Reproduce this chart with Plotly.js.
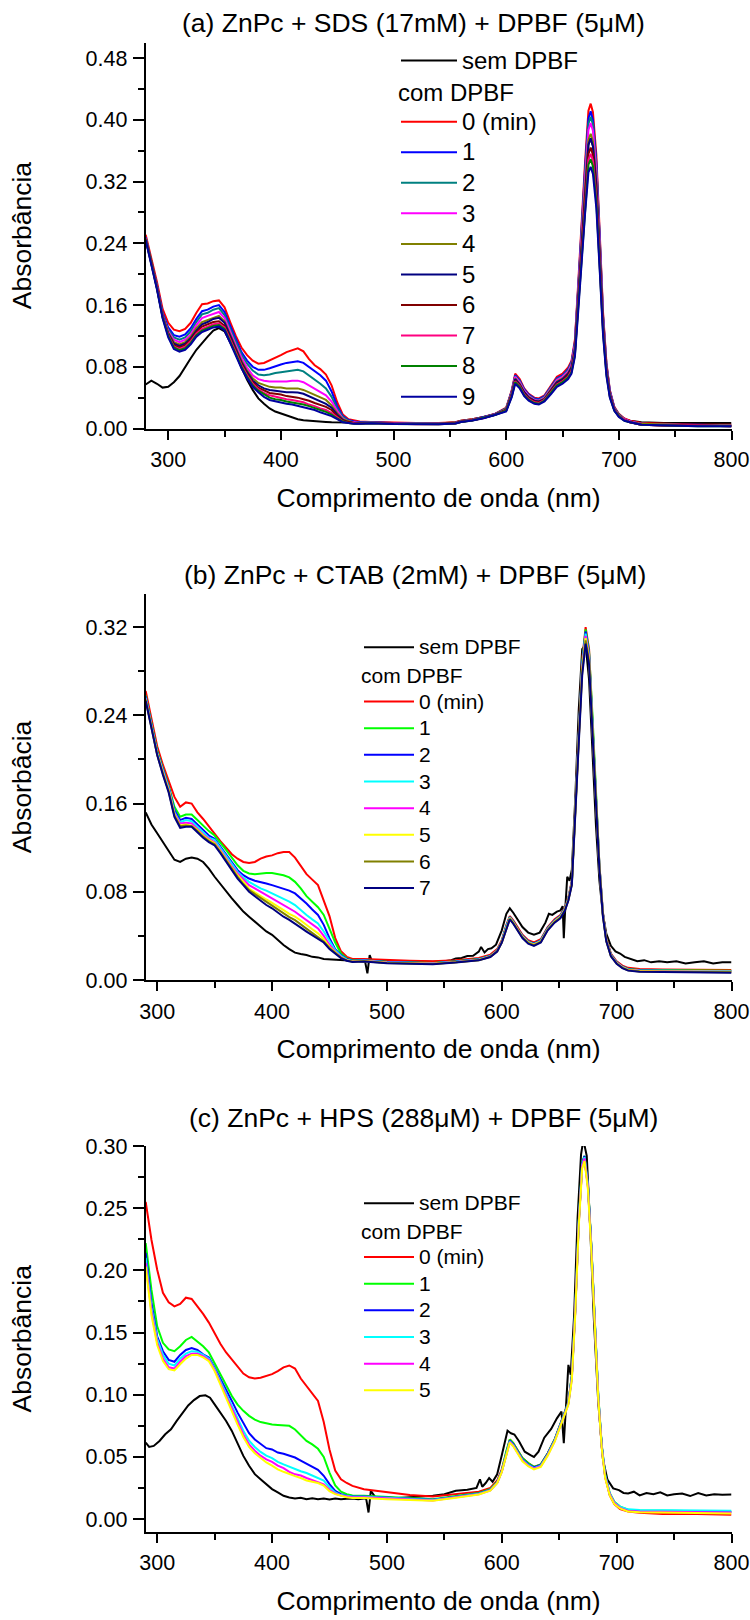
<!DOCTYPE html>
<html>
<head>
<meta charset="utf-8">
<script src="https://cdn.plot.ly/plotly-3.0.1.min.js"></script>
<style>html,body{margin:0;padding:0;background:#fff;}#chart{width:750px;height:1620px;}</style>
</head>
<body>
<div id="chart"></div>
<script>
// ---------- Panel (a): ZnPc + SDS ----------
const wlA = [280,285,290,295,300,305,310,315,320,325,330,335,340,345,350,355,360,365,370,375,380,385,390,395,400,405,410,415,420,425,430,435,440,445,450,455,460,465,470,
480,500,520,540,555,560,570,580,590,
600,605,608,612,616,620,625,629,634,640,645,650,655,658,661,664,667,670,673,675,677,680,683,686,689,692,696,700,705,710,720,740,770,800];
const aSem = [.057,.062,.058,.053,.054,.060,.068,.080,.091,.102,.111,.119,.127,.130,.126,.112,.097,.079,.063,.050,.039,.032,.026,.022,.0195,.016,.0138,.012,.0108,.010,.0095,.009,.0085,.008,.0078,.0076,.0075,.0075,.0075,
.0075,.007,.0065,.0065,.008,.010,.012,.015,.019,
.024,.045,.064,.057,.047,.040,.036,.035,.038,.050,.060,.064,.071,.079,.103,.170,.241,.308,.368,.376,.366,.317,.228,.134,.077,.046,.026,.018,.012,.010,.008,.007,.007,.007];
const aT0 = [.251,.222,.190,.155,.137,.128,.126,.129,.137,.150,.161,.162,.165,.166,.157,.138,.120,.105,.095,.088,.084,.085,.088,.092,.095,.099,.102,.104,.100,.090,.082,.077,.070,.056,.034,.018,.012,.010,.009,
.0085,.0075,.007,.007,.008,.010,.012,.015,.019,
.027,.050,.071,.064,.052,.045,.040,.039,.043,.056,.067,.071,.079,.088,.115,.190,.270,.345,.412,.421,.410,.355,.255,.150,.085,.050,.028,.019,.013,.010,.007,.006,.005,.005];
const aT1 = [.248,.219,.186,.150,.131,.121,.119,.122,.130,.142,.152,.154,.158,.160,.151,.133,.115,.099,.088,.080,.076,.076,.078,.081,.083,.085,.086,.087,.085,.080,.074,.069,.062,.048,.029,.016,.011,.009,.008,
.008,.007,.0065,.0065,.0075,.0095,.0115,.0145,.0185,
.026,.049,.069,.062,.051,.044,.039,.038,.042,.055,.065,.069,.077,.086,.112,.185,.264,.337,.402,.411,.400,.346,.249,.146,.083,.049,.027,.018,.012,.009,.006,.005,.005,.004];
const aT2 = [.247,.218,.185,.148,.128,.118,.115,.118,.126,.138,.148,.150,.154,.156,.147,.129,.112,.096,.084,.075,.070,.069,.070,.072,.073,.074,.075,.076,.074,.069,.064,.058,.052,.041,.026,.015,.010,.008,.0075,
.0078,.0068,.0063,.0063,.0073,.0093,.0113,.0143,.0183,
.026,.048,.068,.061,.050,.043,.038,.037,.041,.054,.064,.068,.076,.085,.110,.182,.259,.331,.395,.404,.394,.341,.245,.144,.082,.048,.027,.018,.012,.009,.006,.005,.004,.004];
const aT3 = [.247,.217,.184,.147,.126,.115,.112,.115,.122,.134,.143,.146,.149,.151,.143,.125,.108,.092,.079,.069,.064,.062,.061,.061,.061,.061,.062,.062,.060,.056,.052,.047,.043,.035,.023,.013,.009,.008,.007,
.0076,.0066,.0061,.0061,.0071,.0091,.0111,.0141,.0181,
.025,.047,.067,.060,.049,.042,.037,.036,.040,.053,.063,.067,.074,.083,.108,.179,.254,.324,.387,.396,.386,.334,.240,.141,.080,.047,.026,.017,.012,.009,.006,.005,.004,.004];
const aT4 = [.246,.217,.183,.146,.124,.112,.109,.112,.119,.130,.138,.141,.144,.146,.139,.122,.105,.088,.075,.065,.059,.056,.054,.053,.053,.052,.052,.052,.050,.047,.043,.040,.037,.030,.020,.012,.009,.007,.007,
.0074,.0064,.006,.006,.007,.009,.011,.014,.018,
.025,.046,.065,.058,.047,.041,.036,.035,.039,.051,.061,.065,.072,.080,.104,.172,.245,.313,.374,.382,.372,.322,.231,.136,.077,.045,.025,.017,.011,.008,.006,.005,.004,.004];
const aT5 = [.246,.216,.183,.146,.123,.110,.107,.110,.117,.127,.135,.138,.142,.1435,.137,.120,.103,.086,.073,.062,.056,.052,.050,.049,.048,.047,.047,.0467,.045,.042,.039,.036,.032,.027,.018,.011,.008,.007,.0065,
.0072,.0062,.0058,.0058,.0068,.0088,.0108,.0138,.0178,
.024,.045,.064,.057,.047,.040,.036,.035,.038,.050,.060,.064,.071,.079,.103,.170,.241,.308,.368,.376,.366,.317,.228,.134,.076,.045,.025,.016,.011,.008,.005,.004,.004,.003];
const aT6 = [.245,.216,.182,.145,.122,.108,.105,.108,.115,.125,.132,.135,.138,.139,.133,.117,.100,.084,.071,.060,.053,.049,.046,.045,.044,.042,.041,.040,.038,.036,.033,.031,.028,.024,.016,.010,.008,.007,.0065,
.0071,.0061,.0057,.0057,.0067,.0087,.0107,.0137,.0177,
.024,.044,.062,.056,.045,.039,.035,.034,.037,.049,.058,.062,.069,.076,.099,.164,.234,.298,.356,.364,.355,.307,.221,.130,.074,.043,.024,.016,.011,.008,.005,.004,.004,.003];
const aT7 = [.245,.215,.182,.145,.121,.106,.103,.106,.113,.123,.129,.132,.135,.136,.131,.115,.098,.082,.069,.058,.051,.046,.043,.041,.040,.038,.037,.0355,.034,.031,.029,.026,.024,.020,.014,.009,.007,.0065,.006,
.007,.006,.0056,.0056,.0066,.0086,.0106,.0136,.0176,
.023,.043,.061,.055,.044,.038,.034,.033,.037,.048,.057,.061,.067,.075,.097,.161,.228,.292,.348,.356,.347,.300,.216,.127,.072,.042,.024,.016,.011,.008,.005,.004,.004,.003];
const aT8 = [.245,.215,.181,.144,.120,.105,.1016,.104,.111,.121,.127,.130,.133,.134,.129,.113,.096,.080,.067,.056,.049,.044,.040,.038,.037,.035,.034,.0324,.031,.029,.027,.024,.0216,.018,.013,.009,.007,.006,.006,
.0069,.0059,.0055,.0055,.0065,.0085,.0105,.0135,.0175,
.023,.042,.060,.054,.043,.037,.033,.032,.036,.047,.056,.060,.066,.073,.095,.158,.224,.286,.342,.349,.340,.294,.211,.124,.070,.041,.023,.016,.010,.008,.005,.004,.003,.003];
const aT9 = [.244,.214,.180,.143,.118,.103,.0995,.102,.109,.119,.125,.128,.131,.132,.127,.111,.094,.078,.065,.054,.047,.041,.037,.035,.034,.032,.031,.0294,.028,.026,.024,.021,.0186,.016,.012,.008,.007,.006,.006,
.0068,.0058,.0054,.0054,.0064,.0084,.0104,.0134,.0174,
.022,.041,.058,.052,.042,.036,.032,.031,.035,.045,.054,.058,.064,.071,.093,.153,.218,.278,.332,.339,.330,.286,.205,.121,.068,.040,.023,.015,.010,.008,.005,.004,.003,.003];
const namesA = ['0 (min)','1','2','3','4','5','6','7','8','9'];
const colorsA = ['#ff0000','#0000ff','#008080','#ff00ff','#808000','#000080','#800000','#ff0080','#008000','#0000a0'];

// ---------- Panel (b): ZnPc + CTAB ----------
const wlB = [290,295,300,305,310,315,320,325,330,335,340,345,350,355,360,365,370,375,380,385,390,395,400,405,410,415,420,425,430,435,440,445,450,455,460,465,470,
480,500,520,540,560,580,590,596,600,604,607,610,614,618,623,628,634,640,646,651,655,658,661,664,667,670,673,676,679,682,685,688,691,695,700,705,710,720,740,770,800];
const wlBsem = [290,295,300,305,310,315,320,325,330,335,340,345,350,355,360,365,370,375,380,385,390,395,400,405,410,415,420,425,430,435,440,445,450,460,470,478,481,483,485,487,490,500,510,520,530,540,550,556,560,565,570,575,580,582,585,588,591,595,600,604,607,610,614,618,623,628,633,638,641,644,648,651,653,654,655,657,659,661,664,667,670,673,676,679,682,685,688,691,695,699,703,707,712,718,724,730,737,744,752,760,768,776,784,792,800];
const bSem = [.152,.141,.133,.125,.116,.109,.107,.110,.111,.110,.107,.101,.0936,.087,.080,.074,.068,.062,.0574,.053,.048,.044,.041,.036,.0317,.028,.0248,.0235,.0226,.021,.0205,.019,.0187,.0175,.017,.017,.0168,.006,.0226,.017,.0172,.0172,.017,.0166,.0168,.0166,.017,.018,.0196,.020,.0217,.022,.0257,.030,.025,.028,.0287,.032,.045,.060,.065,.061,.054,.048,.043,.041,.043,.052,.060,.059,.062,.063,.067,.038,.060,.0936,.090,.100,.165,.245,.300,.304,.272,.205,.140,.090,.060,.042,.031,.026,.024,.021,.019,.017,.018,.016,.017,.016,.017,.015,.016,.017,.015,.016,.016];
const bT0 = [.262,.236,.212,.195,.181,.166,.157,.161,.160,.152,.146,.139,.133,.126,.120,.114,.110,.107,.106,.107,.110,.112,.113,.115,.116,.116,.111,.103,.096,.091,.086,.072,.058,.038,.026,.021,.019,
.019,.018,.0175,.017,.018,.020,.023,.028,.036,.050,.058,.054,.047,.041,.036,.034,.037,.048,.055,.059,.066,.075,.090,.152,.225,.290,.320,.300,.240,.168,.105,.062,.038,.024,.017,.013,.011,.010,.0095,.009,.009];
const bT1 = [.258,.233,.208,.192,.176,.157,.148,.150,.150,.145,.140,.135,.131,.125,.118,.111,.104,.099,.0966,.096,.0966,.097,.097,.096,.095,.093,.089,.083,.076,.071,.066,.059,.047,.034,.024,.0196,.018,
.018,.0165,.016,.0155,.017,.019,.022,.027,.035,.049,.057,.053,.046,.040,.035,.033,.036,.047,.054,.058,.065,.074,.089,.151,.224,.288,.318,.298,.239,.167,.104,.061,.037,.023,.016,.012,.010,.009,.0088,.0085,.0085];
const bT2 = [.257,.232,.207,.191,.175,.154,.145,.147,.146,.141,.136,.131,.128,.121,.113,.106,.0996,.095,.092,.090,.089,.0875,.086,.0845,.083,.081,.0785,.074,.0694,.064,.059,.050,.038,.028,.0226,.019,.0175,
.0178,.0163,.0158,.0153,.0168,.0188,.0218,.0268,.0348,.049,.057,.053,.046,.040,.035,.033,.036,.047,.054,.058,.065,.074,.089,.150,.222,.286,.316,.296,.237,.166,.104,.061,.037,.023,.016,.012,.0098,.0088,.0085,.0082,.008];
const bT3 = [.256,.231,.206,.190,.174,.152,.143,.145,.144,.139,.134,.129,.127,.120,.112,.105,.098,.093,.089,.086,.083,.081,.0785,.076,.074,.071,.068,.063,.0589,.055,.0513,.044,.035,.027,.022,.0185,.0172,
.0176,.0161,.0156,.0151,.0166,.0186,.0216,.0266,.0346,.0485,.0565,.0525,.0455,.0395,.0345,.0325,.0355,.0465,.0535,.0575,.0645,.0735,.088,.149,.221,.285,.314,.294,.235,.165,.103,.060,.036,.0225,.0158,.0118,.0096,.0086,.0083,.008,.008];
const bT4 = [.255,.230,.205,.189,.173,.151,.142,.1425,.142,.137,.132,.128,.125,.118,.110,.103,.0966,.091,.086,.083,.080,.077,.074,.071,.068,.065,.0619,.058,.0543,.050,.0468,.040,.032,.0257,.021,.018,.017,
.0174,.0159,.0154,.0149,.0164,.0184,.0214,.0264,.0344,.048,.056,.052,.045,.039,.034,.032,.035,.046,.053,.057,.064,.073,.088,.148,.219,.283,.312,.293,.234,.164,.102,.060,.036,.0222,.0155,.0115,.0093,.0083,.008,.0077,.0075];
const bT5 = [.254,.229,.205,.188,.172,.150,.140,.141,.140,.136,.131,.127,.124,.117,.109,.102,.095,.089,.083,.0795,.076,.073,.070,.067,.0634,.060,.0574,.054,.0498,.046,.0423,.037,.030,.0248,.0205,.018,.0168,
.0172,.0157,.0152,.0147,.0162,.0182,.0212,.0262,.0342,.048,.056,.052,.045,.039,.034,.032,.035,.046,.053,.057,.064,.073,.087,.147,.218,.281,.310,.291,.233,.163,.102,.059,.036,.022,.0153,.0113,.0091,.0081,.0078,.0075,.0075];
const bT6 = [.254,.228,.204,.187,.171,.149,.1395,.140,.1395,.135,.130,.126,.123,.116,.108,.101,.0936,.087,.0815,.078,.074,.0705,.067,.0635,.0604,.057,.0543,.0505,.0468,.043,.0392,.035,.029,.0242,.0202,.0178,.0166,
.017,.0155,.015,.0145,.016,.018,.021,.026,.034,.0475,.0555,.0515,.0445,.0385,.0335,.0315,.0345,.0455,.0525,.0565,.0635,.0725,.087,.146,.217,.279,.308,.289,.231,.162,.101,.059,.035,.0218,.015,.011,.0088,.0078,.0075,.0072,.007];
const bT7 = [.253,.227,.204,.186,.170,.148,.138,.139,.139,.134,.129,.125,.122,.115,.107,.0995,.092,.086,.080,.076,.0718,.068,.065,.061,.0574,.0545,.0513,.0475,.0438,.0405,.0377,.034,.028,.0235,.0198,.0175,.0163,
.0168,.0153,.0148,.0143,.0158,.0178,.0208,.0258,.0338,.047,.055,.051,.044,.038,.033,.031,.034,.045,.052,.056,.063,.072,.086,.145,.214,.276,.305,.286,.229,.160,.100,.058,.035,.0215,.0148,.0108,.0085,.0075,.0072,.0068,.0065];
const namesB = ['0 (min)','1','2','3','4','5','6','7'];
const colorsB = ['#ff0000','#00ff00','#0000ff','#00ffff','#ff00ff','#ffff00','#808000','#000080'];

// ---------- Panel (c): ZnPc + HPS ----------
const wlC = [290,295,300,305,310,315,320,325,330,335,340,345,350,355,360,365,370,375,380,385,390,395,400,405,410,415,420,425,430,435,440,445,450,455,460,465,470,
480,500,520,540,560,580,590,596,600,604,607,610,614,618,623,628,634,640,646,651,655,658,661,664,667,670,672,675,678,681,684,687,690,694,698,703,710,720,740,770,800];
const wlCsem = [290,293,297,302,307,312,317,322,327,332,337,342,346,350,355,360,365,370,375,380,385,390,395,400,405,410,415,420,425,430,435,440,445,450,455,460,465,470,475,480,482,484,486,490,495,500,510,520,530,540,550,560,570,575,578,581,583,586,589,592,596,600,603,605,608,611,615,620,625,628,632,637,643,648,652,654,656,658,660,663,666,669,671,674,677,680,684,688,692,697,702,706,710,715,720,726,732,738,744,750,757,764,771,778,785,792,800];
const cSem = [.0615,.058,.0588,.0628,.0682,.0722,.0789,.0856,.0914,.0957,.0989,.0995,.0976,.0922,
.0856,.0789,.0709,.0602,.0508,.0428,.0361,.0321,.0281,.0241,.0214,.0187,.0174,.0166,.0172,.0160,.0168,.0160,.0165,.0158,.0166,.0160,.0163,.0166,.0160,.0166,
.0160,.0053,.0227,.0174,.0168,.0166,
.0170,.0174,.0178,.0187,.020,.0227,.0235,
.0246,.025,.032,.026,.029,.033,.030,.036,.0514,
.063,.071,.069,.068,.0626,.0542,.0514,.050,.0542,.0654,.0725,.081,.0865,.061,.092,.124,.116,
.164,.242,.293,.305,.292,.234,.164,.0935,.0486,.0317,.0247,.0233,.021,.0205,.022,.019,
.021,.020,.0215,.019,.020,.0205,.0185,.021,.019,.020,.0195,.0197];
const cT0 = [.255,.2246,.2005,.182,.1743,.171,.173,.178,.177,.171,.165,.158,.149,.141,.134,.128,.122,.117,.114,.113,.1136,.115,.1165,.119,.122,.1235,.121,.113,.107,.101,.095,.078,.056,.039,.032,.029,.0267,
.024,.0214,.0193,.0182,.020,.022,.025,.031,.040,.055,.064,.061,.055,.049,.045,.042,.044,.053,.064,.076,.086,.094,.115,.168,.238,.284,.289,.268,.218,.155,.098,.058,.034,.019,.012,.008,.006,.005,.004,.004,.0035];
const cT1 = [.222,.1845,.155,.1417,.1364,.135,.139,.144,.1465,.143,.139,.134,.125,.117,.108,.099,.092,.087,.083,.080,.078,.0767,.076,.0757,.0755,.075,.072,.067,.0628,.060,.0565,.050,.0374,.027,.022,.020,.019,
.0187,.0176,.0166,.016,.0185,.021,.024,.030,.039,.055,.064,.061,.055,.049,.045,.042,.044,.053,.064,.076,.086,.094,.116,.170,.240,.287,.292,.270,.220,.157,.100,.060,.036,.021,.014,.010,.0075,.0068,.0065,.0062,.006];
const cT2 = [.214,.174,.147,.135,.128,.1265,.132,.136,.1375,.136,.1325,.130,.1217,.113,.104,.095,.0856,.077,.069,.064,.0602,.057,.056,.0535,.0525,.051,.0495,.047,.0445,.042,.0396,.0348,.0281,.0227,.020,.0188,.0182,
.0182,.0172,.0162,.0155,.018,.0205,.0235,.0295,.0385,.054,.063,.060,.054,.048,.044,.0415,.0435,.0525,.0635,.0755,.0855,.0935,.115,.169,.239,.286,.292,.269,.219,.156,.099,.059,.035,.020,.013,.0095,.007,.0063,.006,.0058,.0056];
const cT3 = [.210,.170,.145,.132,.125,.1235,.129,.133,.135,.1345,.132,.129,.121,.111,.101,.091,.081,.071,.063,.058,.054,.051,.049,.046,.044,.042,.040,.0385,.037,.035,.0335,.031,.0255,.0214,.0193,.0185,.018,
.018,.017,.016,.0153,.0178,.0203,.0233,.0293,.0383,.0535,.0625,.0595,.0535,.0475,.0435,.041,.043,.052,.063,.075,.085,.093,.114,.168,.238,.285,.291,.268,.218,.155,.099,.059,.035,.0205,.0135,.010,.0078,.0072,.007,.0068,.0066];
const cT4 = [.206,.167,.142,.129,.122,.121,.1265,.131,.133,.133,.131,.128,.120,.109,.099,.089,.078,.068,.060,.055,.051,.048,.046,.043,.041,.038,.036,.035,.033,.0315,.030,.028,.0235,.0205,.019,.018,.0175,
.0175,.0165,.0155,.015,.0175,.020,.023,.029,.038,.053,.062,.059,.053,.047,.043,.0405,.0425,.0515,.0625,.0745,.0845,.0925,.113,.167,.237,.284,.290,.267,.217,.154,.098,.058,.034,.020,.013,.009,.0065,.006,.0057,.0055,.0052];
const cT5 = [.203,.164,.140,.127,.1205,.1195,.1245,.129,.132,.132,.130,.127,.119,.108,.097,.087,.076,.066,.058,.053,.049,.0455,.043,.040,.038,.036,.0345,.033,.031,.030,.029,.027,.0225,.020,.0185,.0175,.017,
.017,.016,.0152,.0148,.0172,.0198,.0228,.0288,.0378,.0525,.0615,.0585,.0525,.0465,.0425,.040,.042,.051,.062,.074,.084,.092,.112,.165,.235,.282,.288,.265,.215,.153,.097,.057,.033,.019,.012,.0085,.006,.0055,.005,.0048,.0045];
const namesC = ['0 (min)','1','2','3','4','5'];
const colorsC = ['#ff0000','#00ff00','#0000ff','#00ffff','#ff00ff','#ffff00'];

const titles = ['(a) ZnPc + SDS (17mM) + DPBF (5μM)','(b) ZnPc + CTAB (2mM) + DPBF (5μM)','(c) ZnPc + HPS (288μM) + DPBF (5μM)'];
const yTitles = ['Absorbância','Absorbâcia','Absorbância'];
const xTitle = 'Comprimento de onda (nm)';
const semName = 'sem DPBF';
const comName = 'com DPBF';

// ---------- build ----------
const FONT = 'Liberation Sans, Arial, Helvetica, sans-serif';
const traces = [];
function big(t, px) { return '<span style="font-size:' + px + 'px">' + t + '</span>'; }
function addLine(x, y, name, color, ax, leg, px) {
  traces.push({type:'scatter', mode:'lines', x:x, y:y, name:big(name, px),
    line:{color:color, width:2}, xaxis:'x'+ax, yaxis:'y'+ax, legend:leg, hoverinfo:'skip'});
}
addLine(wlA, aSem, semName, '#000000', '', 'legend', 24);
[aT0,aT1,aT2,aT3,aT4,aT5,aT6,aT7,aT8,aT9].forEach((s,i)=>addLine(wlA, s, namesA[i], colorsA[i], '', 'legend2', 24));
addLine(wlBsem, bSem, semName, '#000000', '2', 'legend3', 21);
[bT0,bT1,bT2,bT3,bT4,bT5,bT6,bT7].forEach((s,i)=>addLine(wlB, s, namesB[i], colorsB[i], '2', 'legend4', 21));
addLine(wlCsem, cSem, semName, '#000000', '3', 'legend5', 21);
[cT0,cT1,cT2,cT3,cT4,cT5].forEach((s,i)=>addLine(wlC, s, namesC[i], colorsC[i], '3', 'legend6', 21));

const W = 750, H = 1620;
const X0 = 145.7, X1 = 731.5;
const boxes = [[42.7,428.5],[594,980],[1146,1531.5]];
function xa(range, anchor, i) {
  return {domain:[X0/W, X1/W], range:range, anchor:anchor, dtick:100, tick0:0,
    ticks:'outside', ticklen:9, tickwidth:2, tickcolor:'#000', showline:true, linewidth:2, linecolor:'#000',
    showgrid:false, zeroline:false, automargin:false, ticklabelstandoff:2,
    minor:{ticks:'outside', dtick:50, tick0:0, ticklen:6, tickwidth:2, tickcolor:'#000', showgrid:false},
    tickfont:{family:FONT, size:21.5, color:'#000'},
    title:{text:xTitle, font:{family:FONT, size:26.5, color:'#000'}, standoff:17}};
}
function ya(range, dtick, minor, anchor, i) {
  return {domain:[1-boxes[i][1]/H, 1-boxes[i][0]/H], range:range, anchor:anchor, dtick:dtick, tick0:0, tickformat:'.2f',
    ticks:'outside', ticklen:11, tickwidth:2, tickcolor:'#000', showline:true, linewidth:2, linecolor:'#000',
    showgrid:false, zeroline:false, automargin:false, ticklabelstandoff:1,
    minor:{ticks:'outside', dtick:minor, tick0:0, ticklen:6, tickwidth:2, tickcolor:'#000', showgrid:false},
    tickfont:{family:FONT, size:21.5, color:'#000'},
    title:{text:yTitles[i], font:{family:FONT, size:26.5, color:'#000'}, standoff:46}};
}
function leg(x, ytop, size, px, iw, title) {
  const L = {x:x/W, y:1-ytop/H, xanchor:'left', yanchor:'top', bgcolor:'rgba(0,0,0,0)', borderwidth:0,
    font:{family:FONT, size:size, color:'#000'}, itemwidth:iw, tracegroupgap:0, traceorder:'normal'};
  if (title) L.title = {text:big(title, px), font:{family:FONT, size:size, color:'#000'}, side:'top'};
  return L;
}
function ann(t, x, y) {
  return {text:t, xref:'paper', yref:'paper', x:x/W, y:1-y/H, xanchor:'center', yanchor:'middle', showarrow:false,
    font:{family:FONT, size:26.5, color:'#000'}};
}
const layout = {
  width:W, height:H, margin:{l:0, r:0, t:0, b:0}, paper_bgcolor:'#fff', plot_bgcolor:'#fff',
  showlegend:true,
  xaxis:xa([280,800],'y',0), yaxis:ya([0,0.5],0.08,0.04,'x',0),
  xaxis2:xa([290,800],'y2',1), yaxis2:ya([0,0.35],0.08,0.04,'x2',1),
  xaxis3:xa([290,800],'y3',2), yaxis3:ya([-0.01,0.30],0.05,0.025,'x3',2),
  legend:leg(396, 40.2, 21.2, 24, 56), legend2:leg(396, 73.8, 21.2, 24, 56, comName),
  legend3:leg(359, 629, 18.2, 21, 50), legend4:leg(359, 659.5, 18.2, 21, 50, comName),
  legend5:leg(359, 1185, 18.2, 21, 50), legend6:leg(359, 1215, 18.2, 21, 50, comName),
  annotations:[ann(titles[0], 413.7, 22.7), ann(titles[1], 414.8, 575), ann(titles[2], 423.5, 1117.6)]
};
Plotly.newPlot('chart', traces, layout, {displayModeBar:false, staticPlot:true});
</script>
</body>
</html>
